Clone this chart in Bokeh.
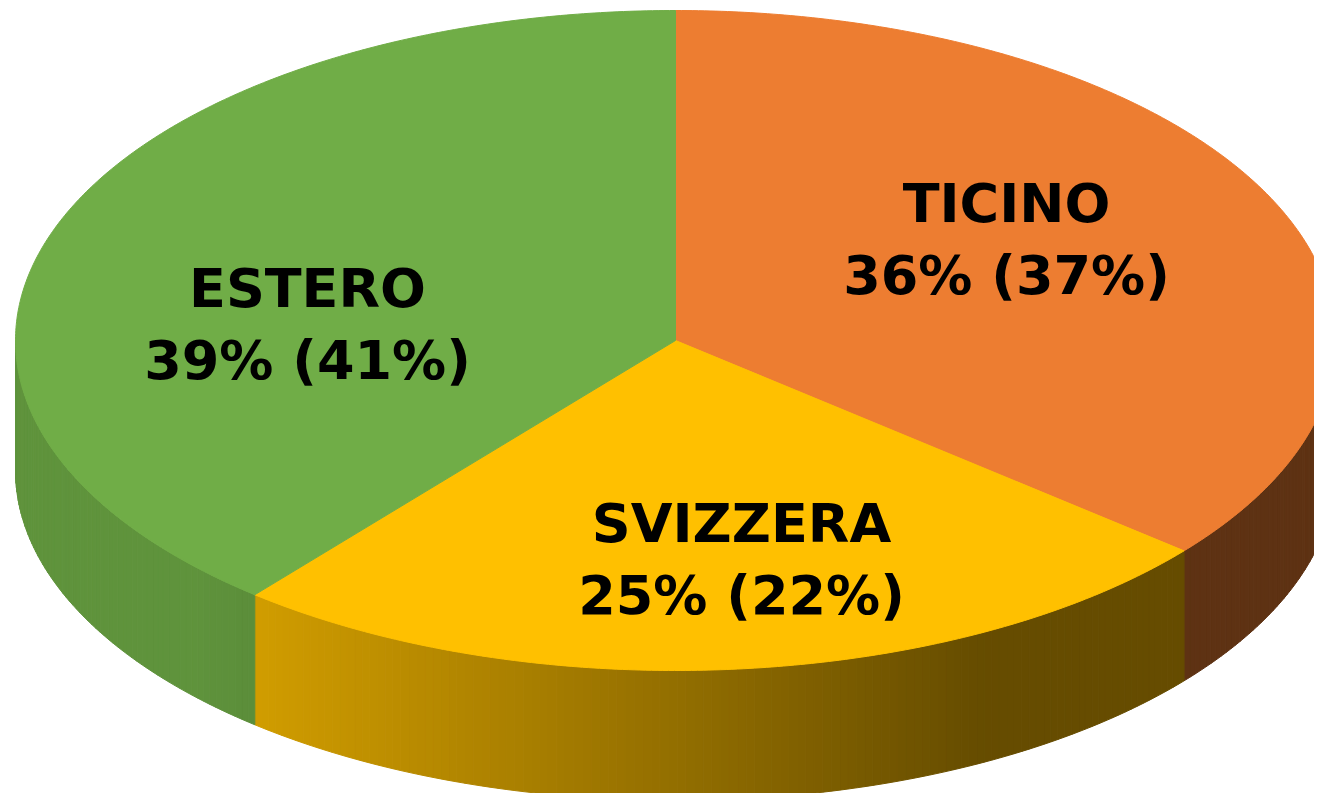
import math
from bokeh.plotting import figure
from bokeh.models import Range1d, ColumnDataSource
from bokeh.core.properties import value
from bokeh.embed import file_html
from bokeh.resources import INLINE

# ---- data ----
categories = ["TICINO", "SVIZZERA", "ESTERO"]
values = [36, 25, 39]
prev_values = [37, 22, 41]
top_colors = ["#ED7D31", "#FFC000", "#70AD47"]

# ---- layout (pixel-like data space, y pointing down) ----
CX, CY, RX, RY, DEPTH = 675.0, 340.0, 660.0, 330.0, 130.0
label_pos = {"TICINO": (1006, 203), "SVIZZERA": (741, 523), "ESTERO": (307, 288)}
LINE_GAP = 72

W, H = 1314, 793
p = figure(width=W, height=H, output_backend="svg", toolbar_location=None,
           x_range=Range1d(0, W), y_range=Range1d(H, 0),
           min_border=0, outline_line_color=None, background_fill_color="white")
p.axis.visible = False
p.grid.visible = False


def hex_rgb(h):
    h = h.lstrip("#")
    return tuple(int(h[i:i + 2], 16) for i in (0, 2, 4))


def shade(hexcol, f):
    r, g, b = hex_rgb(hexcol)
    return "#%02x%02x%02x" % (int(r * f), int(g * f), int(b * f))


def pt(theta_deg, dy=0.0):
    t = math.radians(theta_deg)
    return CX + RX * math.sin(t), CY - RY * math.cos(t) + dy


total = float(sum(values))
starts, ends = [], []
acc = 0.0
for v in values:
    starts.append(acc / total * 360.0)
    acc += v
    ends.append(acc / total * 360.0)

# ---- side walls (front half only: 90..270 degrees clockwise from top) ----
sxs, sys_, scol = [], [], []
for cat, col, a0, a1 in zip(categories, top_colors, starts, ends):
    lo, hi = max(a0, 90.0), min(a1, 270.0)
    if hi <= lo:
        continue
    n = max(2, int((hi - lo) / 0.75))
    for i in range(n):
        t0 = lo + (hi - lo) * i / n
        t1 = lo + (hi - lo) * (i + 1) / n
        x0, y0 = pt(t0)
        x1, y1 = pt(t1)
        sxs.append([x0, x1, x1, x0])
        sys_.append([y0, y1, y1 + DEPTH, y0 + DEPTH])
        s = math.sin(math.radians((t0 + t1) / 2))
        f = min(0.85, max(0.40, 0.577 - 0.38 * s))
        scol.append(shade(col, f))

p.patches(xs="xs", ys="ys", fill_color="c", line_color="c", line_width=1,
          source=ColumnDataSource(dict(xs=sxs, ys=sys_, c=scol)))

# ---- top faces ----
txs, tys = [], []
for a0, a1 in zip(starts, ends):
    n = max(4, int((a1 - a0) / 0.5))
    xs, ys = [CX], [CY]
    for i in range(n + 1):
        x, y = pt(a0 + (a1 - a0) * i / n)
        xs.append(x)
        ys.append(y)
    txs.append(xs)
    tys.append(ys)

p.patches(xs="xs", ys="ys", fill_color="c", line_color="c", line_width=1,
          source=ColumnDataSource(dict(xs=txs, ys=tys, c=top_colors)))

# ---- labels ----
lx, ly, lt = [], [], []
for cat, v, pv in zip(categories, values, prev_values):
    x, y = label_pos[cat]
    lx += [x, x]
    ly += [y, y + LINE_GAP]
    lt += [cat, f"{v}% ({pv}%)"]

p.text(x=lx, y=ly, text=lt, text_font=value("DejaVu Sans"), text_font_style="bold",
       text_font_size="54px", text_color="black", text_align="center",
       text_baseline="alphabetic")

open("out.html", "w").write(file_html(p, INLINE))
